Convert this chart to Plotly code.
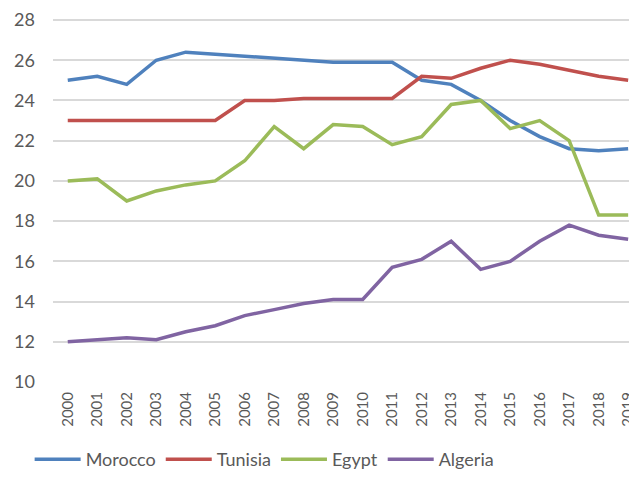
import plotly.graph_objects as go

years = [str(y) for y in range(2000, 2020)]
morocco = [25.0, 25.2, 24.8, 26.0, 26.4, 26.3, 26.2, 26.1, 26.0, 25.9, 25.9, 25.9, 25.0, 24.8, 24.0, 23.0, 22.2, 21.6, 21.5, 21.6]
tunisia = [23.0, 23.0, 23.0, 23.0, 23.0, 23.0, 24.0, 24.0, 24.1, 24.1, 24.1, 24.1, 25.2, 25.1, 25.6, 26.0, 25.8, 25.5, 25.2, 25.0]
egypt = [20.0, 20.1, 19.0, 19.5, 19.8, 20.0, 21.0, 22.7, 21.6, 22.8, 22.7, 21.8, 22.2, 23.8, 24.0, 22.6, 23.0, 22.0, 18.3, 18.3]
algeria = [12.0, 12.1, 12.2, 12.1, 12.5, 12.8, 13.3, 13.6, 13.9, 14.1, 14.1, 15.7, 16.1, 17.0, 15.6, 16.0, 17.0, 17.8, 17.3, 17.1]

series = [("Morocco", morocco, "#4F81BD"), ("Tunisia", tunisia, "#C0504D"),
          ("Egypt", egypt, "#9BBB59"), ("Algeria", algeria, "#8064A2")]

fig = go.Figure()
for name, vals, col in series:
    fig.add_trace(go.Scatter(x=years, y=vals, mode="lines", name=name,
                             line=dict(color=col, width=3.5)))

fig.update_layout(
    width=629, height=483,
    margin=dict(l=45, r=0, t=11, b=109),
    plot_bgcolor="white", paper_bgcolor="white",
    font=dict(family="Lato, Open Sans, sans-serif", color="#595959"),
    xaxis=dict(type="category", range=[-0.5, 19.3], tickangle=-90,
               tickfont=dict(size=15), showgrid=False, showline=False,
               ticks="", ticklen=0, automargin=False,
               ticklabeloverflow="allow", ticklabelstandoff=6),
    yaxis=dict(range=[10, 28.05], tickvals=[10, 12, 14, 16, 18, 20, 22, 24, 26, 28],
               tickfont=dict(size=18),
               showgrid=True, gridcolor="#D9D9D9", gridwidth=1.5,
               zeroline=False, ticks="", automargin=False,
               ticklabeloverflow="allow", ticklabelstandoff=17),
    legend=dict(orientation="h", x=-0.040, xanchor="left", y=-0.163, yanchor="top",
                font=dict(size=18), itemwidth=46, tracegroupgap=0),
    showlegend=True,
)
fig.write_html("out.html")
